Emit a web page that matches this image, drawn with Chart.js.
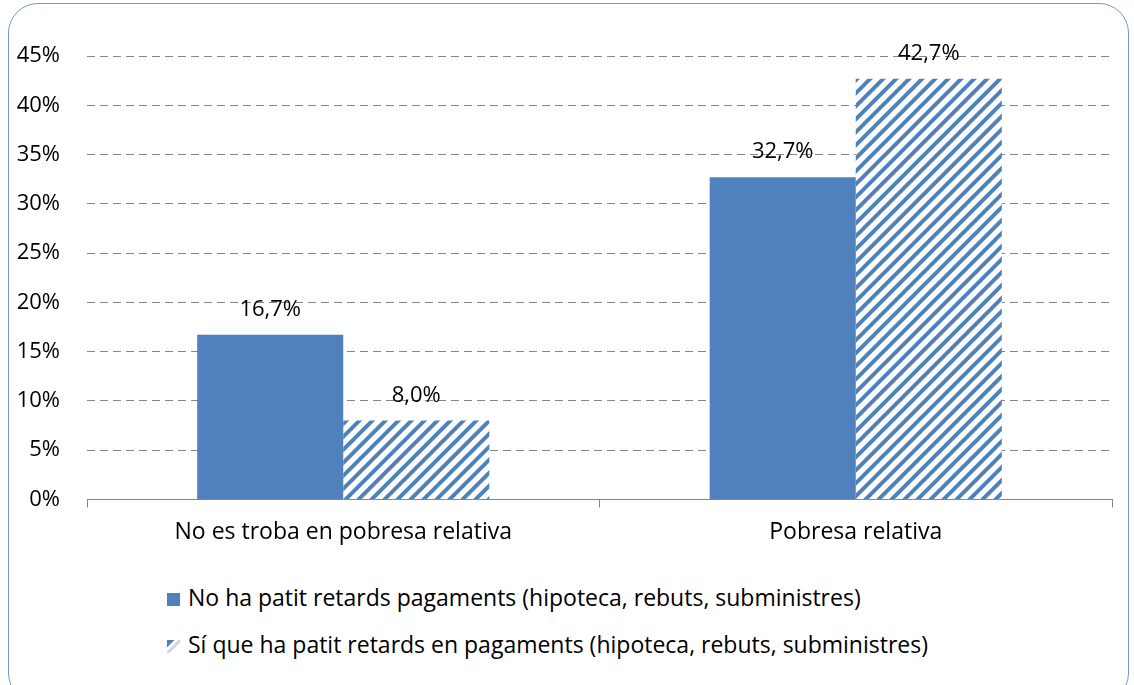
<!DOCTYPE html>
<html>
<head>
<meta charset="utf-8">
<script src="https://cdn.jsdelivr.net/npm/chart.js@4"></script>
<style>
  html, body { margin: 0; padding: 0; background: #fff; }
  #wrap { position: relative; width: 1134px; height: 685px; overflow: hidden; font-family: "Open Sans", sans-serif; }
  #frame { position: absolute; left: 8px; top: 3px; width: 1121px; height: 700px; border: 1px solid #7397c8; border-radius: 30px; box-sizing: border-box; }
  #chart { position: absolute; left: 0; top: 0; }
  .legend-row { position: absolute; left: 167px; font-size: 23px; color: #000; white-space: nowrap; line-height: 26px; }
  .swatch { display: inline-block; width: 13px; height: 13px; margin-right: 8px; vertical-align: 0px; }
</style>
</head>
<body>
<div id="wrap">
  <div id="frame"></div>
  <canvas id="chart" width="1134" height="557"></canvas>
  <div class="legend-row" style="top:584px"><span class="swatch" id="sw0"></span><span id="lg0"></span></div>
  <div class="legend-row" style="top:631px"><span class="swatch" id="sw1"></span><span id="lg1"></span></div>
</div>
<script>
// dades
const categories = ['No es troba en pobresa relativa', 'Pobresa relativa'];
const seriesNames = [
  'No ha patit retards pagaments (hipoteca, rebuts, subministres)',
  'Sí que ha patit retards en pagaments (hipoteca, rebuts, subministres)'
];
const noRetards = [16.7, 32.7];
const siRetards = [8.0, 42.7];
const yTicks = [0, 5, 10, 15, 20, 25, 30, 35, 40, 45];

const blue = '#4f81bd';
const fontFam = '"Open Sans", sans-serif';

// patró ratllat
function makeHatch() {
  const s = 13;
  const c = document.createElement('canvas');
  c.width = s; c.height = s;
  const g = c.getContext('2d');
  g.fillStyle = '#fff';
  g.fillRect(0, 0, s, s);
  g.strokeStyle = blue;
  g.lineWidth = 4;
  g.beginPath();
  g.moveTo(-s, s * 2); g.lineTo(s * 2, -s);
  g.moveTo(-s, s); g.lineTo(s, -s);
  g.moveTo(0, s * 2); g.lineTo(s * 2, 0);
  g.stroke();
  return g.createPattern(c, 'repeat');
}
const hatch = makeHatch();

document.getElementById('lg0').textContent = seriesNames[0];
document.getElementById('lg1').textContent = seriesNames[1];
document.getElementById('sw0').style.background = blue;
document.getElementById('sw1').style.background =
  'linear-gradient(135deg, ' + blue + ' 0 30%, #fff 30% 45%, #c9d7ea 45% 60%, #fff 60%)';

const valueLabels = {
  id: 'valueLabels',
  afterDatasetsDraw(chart) {
    const ctx = chart.ctx;
    ctx.save();
    ctx.font = '22px ' + fontFam;
    ctx.fillStyle = '#000';
    ctx.textAlign = 'center';
    ctx.textBaseline = 'alphabetic';
    chart.data.datasets.forEach((ds, i) => {
      chart.getDatasetMeta(i).data.forEach((bar, j) => {
        const txt = ds.data[j].toFixed(1).replace('.', ',') + '%';
        ctx.fillText(txt, bar.x, bar.y - 19);
      });
    });
    ctx.restore();
  }
};

new Chart(document.getElementById('chart'), {
  type: 'bar',
  data: {
    labels: categories,
    datasets: [
      { label: seriesNames[0], data: noRetards, backgroundColor: blue, borderWidth: 0 },
      { label: seriesNames[1], data: siRetards, backgroundColor: hatch, borderWidth: 0 }
    ]
  },
  options: {
    responsive: false,
    animation: false,
    layout: { padding: { top: 56, right: 22, left: 0, bottom: 0 } },
    categoryPercentage: 0.57,
    barPercentage: 1,
    plugins: {
      legend: { display: false },
      tooltip: { enabled: false }
    },
    scales: {
      x: {
        grid: { drawOnChartArea: false, drawTicks: true, tickLength: 8, color: '#868686', offset: true },
        border: { color: '#868686', width: 1 },
        ticks: { color: '#000', font: { size: 23, family: fontFam }, padding: 11 }
      },
      y: {
        min: 0,
        max: 45,
        afterFit(scale) { scale.width = 87; },
        afterBuildTicks(scale) { scale.ticks = yTicks.map(v => ({ value: v })); },
        grid: { color: '#868686', drawTicks: false, lineWidth: 1 },
        border: { display: false, dash: [8, 5] },
        ticks: {
          color: '#000',
          padding: 27,
          font: { size: 22, family: fontFam },
          callback: v => v + '%'
        }
      }
    }
  },
  plugins: [valueLabels]
});
</script>
</body>
</html>
